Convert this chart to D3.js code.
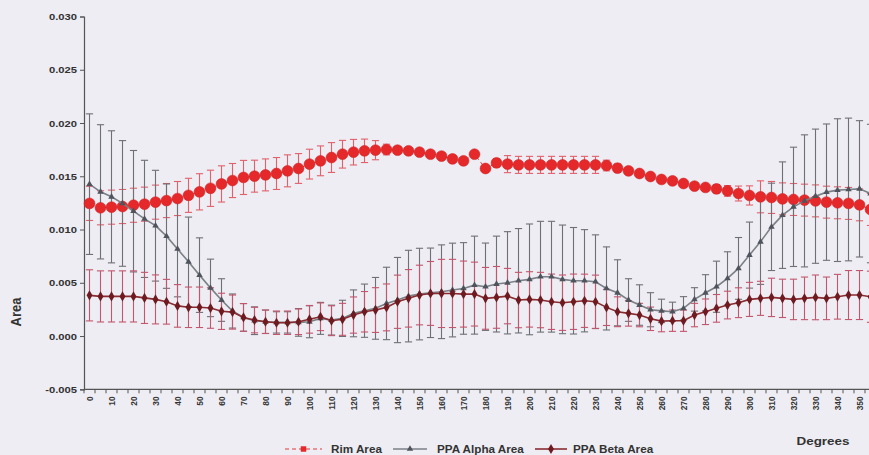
<!DOCTYPE html>
<html>
<head>
<meta charset="utf-8">
<script src="https://cdn.jsdelivr.net/npm/d3@7"></script>
<style>
  html, body { margin: 0; padding: 0; background: #eeedf3; }
  svg { display: block; }
  text { font-family: "Liberation Sans", Arial, sans-serif; font-weight: bold; fill: #333; }
</style>
</head>
<body>
<svg id="chart" width="869" height="455"></svg>
<script>
// Angular position categories (degrees) and the labelled ones
const categories = [0,5,10,15,20,25,30,35,40,45,50,55,60,65,70,75,80,85,90,95,100,105,110,115,120,125,130,135,140,145,150,155,160,165,170,175,180,185,190,195,200,205,210,215,220,225,230,235,240,245,250,255,260,265,270,275,280,285,290,295,300,305,310,315,320,325,330,335,340,345,350,355,360];
const tickLabels = [0,10,20,30,40,50,60,70,80,90,100,110,120,130,140,150,160,170,180,190,200,210,220,230,240,250,260,270,280,290,300,310,320,330,340,350];
const yTicks = [-0.005,0,0.005,0.010,0.015,0.020,0.025,0.030];

// Series means (0..355 deg)
const rimArea = [0.01245,0.01204,0.01210,0.01216,0.01228,0.01238,0.01257,0.01272,0.01291,0.01321,0.01354,0.01387,0.01428,0.01460,0.01489,0.01501,0.01513,0.01526,0.01551,0.01573,0.01614,0.01645,0.01676,0.01707,0.01726,0.01739,0.01745,0.01751,0.01745,0.01739,0.01726,0.01707,0.01689,0.01663,0.01645,0.01707,0.01573,0.01626,0.01614,0.01607,0.01607,0.01607,0.01607,0.01607,0.01607,0.01607,0.01607,0.01601,0.01576,0.01551,0.01526,0.01498,0.01470,0.01457,0.01432,0.01407,0.01395,0.01382,0.01363,0.01338,0.01320,0.01307,0.01301,0.01288,0.01282,0.01276,0.01269,0.01257,0.01251,0.01245,0.01232,0.01188];
const ppaAlpha = [0.01426,0.01354,0.01307,0.01245,0.01172,0.01100,0.01036,0.00938,0.00818,0.00697,0.00572,0.00452,0.00338,0.00235,0.00175,0.00144,0.00134,0.00128,0.00128,0.00128,0.00134,0.00166,0.00150,0.00166,0.00213,0.00238,0.00260,0.00306,0.00338,0.00375,0.00394,0.00406,0.00416,0.00432,0.00447,0.00478,0.00463,0.00488,0.00500,0.00519,0.00532,0.00557,0.00557,0.00532,0.00519,0.00519,0.00510,0.00447,0.00406,0.00338,0.00291,0.00247,0.00236,0.00228,0.00260,0.00344,0.00406,0.00463,0.00541,0.00635,0.00760,0.00885,0.01025,0.01135,0.01213,0.01269,0.01313,0.01351,0.01370,0.01376,0.01382,0.01338];
const ppaBeta = [0.00382,0.00372,0.00372,0.00372,0.00372,0.00358,0.00344,0.00322,0.00283,0.00270,0.00270,0.00263,0.00232,0.00225,0.00175,0.00150,0.00134,0.00125,0.00125,0.00134,0.00157,0.00181,0.00144,0.00157,0.00197,0.00228,0.00244,0.00269,0.00322,0.00354,0.00385,0.00400,0.00400,0.00400,0.00394,0.00394,0.00354,0.00363,0.00375,0.00338,0.00344,0.00338,0.00322,0.00313,0.00322,0.00331,0.00322,0.00269,0.00228,0.00213,0.00197,0.00162,0.00140,0.00144,0.00144,0.00197,0.00228,0.00260,0.00291,0.00313,0.00344,0.00354,0.00363,0.00354,0.00344,0.00354,0.00363,0.00354,0.00369,0.00385,0.00385,0.00369];

// Error bar half-widths
const rimErr = [0.0016,0.0016,0.0016,0.0016,0.0016,0.0016,0.0016,0.0016,0.0016,0.0016,0.0017,0.0017,0.0017,0.0016,0.0016,0.0015,0.0015,0.0015,0.0015,0.0014,0.0014,0.0014,0.0014,0.0013,0.0012,0.0011,0.0009,0.0005,0.0003,0.0003,0.0003,0.0003,0.0003,0.0003,0.0003,0.0002,0.0002,0.0004,0.0008,0.0008,0.0008,0.0008,0.0008,0.0008,0.0008,0.0008,0.0008,0.0005,0.0004,0.0003,0.0003,0.0003,0.0003,0.0003,0.0003,0.0003,0.0003,0.0004,0.0005,0.0007,0.0009,0.0015,0.0015,0.0015,0.0015,0.0015,0.0015,0.0015,0.0015,0.0015,0.0015,0.0015];
const alphaErr = [0.0066,0.0063,0.0062,0.0059,0.0057,0.0055,0.0052,0.0049,0.0045,0.0042,0.0035,0.0027,0.0020,0.0016,0.0013,0.0013,0.0011,0.0010,0.0010,0.0013,0.0015,0.0015,0.0014,0.0017,0.0022,0.0025,0.0029,0.0034,0.0040,0.0043,0.0043,0.0042,0.0044,0.0044,0.0043,0.0046,0.0041,0.0045,0.0048,0.0049,0.0052,0.0052,0.0052,0.0051,0.0050,0.0048,0.0044,0.0039,0.0031,0.0020,0.0019,0.0016,0.0011,0.0009,0.0011,0.0011,0.0017,0.0024,0.0025,0.0029,0.0031,0.0040,0.0041,0.0050,0.0056,0.0062,0.0063,0.0064,0.0067,0.0067,0.0064,0.0065];
const betaErr = [0.0024,0.0024,0.0024,0.0024,0.0024,0.0024,0.0023,0.0021,0.0020,0.0019,0.0019,0.0019,0.0017,0.0016,0.0013,0.0012,0.0011,0.0011,0.0011,0.0012,0.0013,0.0013,0.0014,0.0015,0.0017,0.0019,0.0021,0.0022,0.0025,0.0027,0.0028,0.0030,0.0032,0.0032,0.0031,0.0030,0.0029,0.0029,0.0026,0.0026,0.0026,0.0026,0.0026,0.0026,0.0026,0.0025,0.0025,0.0017,0.0014,0.0012,0.0011,0.0011,0.0010,0.0010,0.0010,0.0011,0.0012,0.0013,0.0013,0.0014,0.0016,0.0016,0.0018,0.0018,0.0019,0.0020,0.0021,0.0020,0.0021,0.0023,0.0023,0.0024];

const series = [
  { name: "Rim Area",       values: rimArea,  err: rimErr,   line: "#e0383a", dash: "4,3", lw: 1,   bar: "#e2606a", marker: "circle" },
  { name: "PPA Alpha Area", values: ppaAlpha, err: alphaErr, line: "#7b7f86", dash: null,  lw: 1.6, bar: "#6e7076", marker: "triangle" },
  { name: "PPA Beta Area",  values: ppaBeta,  err: betaErr,  line: "#8a2b30", dash: null,  lw: 1.6, bar: "#c2566c", marker: "diamond" }
];

const svg = d3.select("#chart");
const W = 869, H = 455;
const stretch = 1.17;   // horizontal text width factor

svg.append("rect").attr("width", W).attr("height", H).attr("fill", "#eeedf3");

const x = d3.scaleBand().domain(categories).range([84, 887]).paddingInner(0).paddingOuter(0);
const cx = d => x(d) + x.bandwidth() / 2;
const y = d3.scaleLinear().domain([-0.005, 0.030]).range([389.3, 16.5]);

// ---- Y axis
const yAxis = svg.append("g").attr("transform", "translate(84,0)")
  .call(d3.axisLeft(y).tickValues(yTicks).tickSize(4).tickPadding(3).tickFormat(d => d.toFixed(3)));
yAxis.select(".domain").attr("stroke", "#555").attr("stroke-width", 1.2);
yAxis.selectAll(".tick line").attr("stroke", "#555");
yAxis.selectAll(".tick text")
  .attr("font-size", 9.6).attr("fill", "#333")
  .each(function() {
    const t = d3.select(this);
    const tx = +t.attr("x");
    t.attr("x", null).attr("dy", "0.33em")
     .attr("transform", `translate(${tx},0) scale(${stretch},1)`);
  });

// ---- X axis
const xAxisY = y(-0.005);
const xAxis = svg.append("g").attr("transform", `translate(0,${xAxisY})`)
  .call(d3.axisBottom(x).tickValues(tickLabels).tickSize(0).tickPadding(0).tickSizeOuter(0));
xAxis.select(".domain").remove();
xAxis.selectAll(".tick text")
  .attr("font-size", 8.4).attr("fill", "#333")
  .attr("y", null).attr("dy", "0.35em")
  .attr("text-anchor", "end")
  .attr("transform", `translate(0,7) scale(${stretch},1) rotate(-90)`);

svg.append("line")
  .attr("x1", x(categories[0])).attr("x2", W + 20)
  .attr("y1", xAxisY).attr("y2", xAxisY)
  .attr("stroke", "#555").attr("stroke-width", 1.2);
// tick marks between categories
svg.append("g").selectAll("line").data(categories).join("line")
  .attr("x1", d => x(d)).attr("x2", d => x(d))
  .attr("y1", xAxisY).attr("y2", xAxisY + 4)
  .attr("stroke", "#555").attr("stroke-width", 1);

// ---- Error bars
const pts = s => s.values.map((v, i) => ({ c: categories[i], v, e: s.err[i] }));
const cap = 3.6;
series.forEach(s => {
  const g = svg.append("g").attr("stroke", s.bar).attr("stroke-width", 1.1).attr("fill", "none");
  const data = pts(s);
  g.selectAll("line.stem").data(data).join("line").attr("class", "stem")
    .attr("x1", d => cx(d.c)).attr("x2", d => cx(d.c))
    .attr("y1", d => y(d.v + d.e)).attr("y2", d => y(d.v - d.e));
  g.selectAll("line.top").data(data).join("line").attr("class", "top")
    .attr("x1", d => cx(d.c) - cap).attr("x2", d => cx(d.c) + cap)
    .attr("y1", d => y(d.v + d.e)).attr("y2", d => y(d.v + d.e));
  g.selectAll("line.bot").data(data).join("line").attr("class", "bot")
    .attr("x1", d => cx(d.c) - cap).attr("x2", d => cx(d.c) + cap)
    .attr("y1", d => y(d.v - d.e)).attr("y2", d => y(d.v - d.e));
});

// ---- Lines and markers
const lineGen = d3.line().x(d => cx(d.c)).y(d => y(d.v));
const symTri = d3.symbol().type(d3.symbolTriangle).size(18);
const symDia = d3.symbol().type(d3.symbolDiamond).size(30);
const symSq = d3.symbol().type(d3.symbolSquare).size(30);

series.forEach(s => {
  const data = pts(s);
  svg.append("path").datum(data)
    .attr("d", lineGen).attr("fill", "none")
    .attr("stroke", s.line).attr("stroke-width", s.lw)
    .attr("stroke-dasharray", s.dash);
  const g = svg.append("g");
  if (s.marker === "circle") {
    g.selectAll("circle").data(data).join("circle")
      .attr("cx", d => cx(d.c)).attr("cy", d => y(d.v)).attr("r", 5.4)
      .attr("fill", "#e5292b").attr("stroke", "#d42024").attr("stroke-width", 0.6);
  } else if (s.marker === "triangle") {
    g.selectAll("path").data(data).join("path")
      .attr("d", symTri).attr("transform", d => `translate(${cx(d.c)},${y(d.v)})`)
      .attr("fill", "#4e535c");
  } else {
    g.selectAll("path").data(data).join("path")
      .attr("d", symDia).attr("transform", d => `translate(${cx(d.c)},${y(d.v)})`)
      .attr("fill", "#6e1a20");
  }
});

// ---- Axis titles
svg.append("text").text("Area")
  .attr("font-size", 13).attr("text-anchor", "middle")
  .attr("transform", `translate(21,312) scale(${stretch},1) rotate(-90)`);
svg.append("text").text("Degrees")
  .attr("font-size", 11.5).attr("text-anchor", "middle")
  .attr("transform", `translate(823,444.5) scale(${stretch},1)`);

// ---- Legend
const legY = 449;
const legend = [
  { s: series[0], x0: 285, x1: 322, text: 331 },
  { s: series[1], x0: 393, x1: 427, text: 437 },
  { s: series[2], x0: 535, x1: 567, text: 573 }
];
legend.forEach(l => {
  const g = svg.append("g");
  g.append("line").attr("x1", l.x0).attr("x2", l.x1).attr("y1", legY).attr("y2", legY)
    .attr("stroke", l.s.line).attr("stroke-width", l.s.lw)
    .attr("stroke-dasharray", l.s.dash);
  const mx = (l.x0 + l.x1) / 2;
  const sym = l.s.marker === "circle" ? symSq : (l.s.marker === "triangle" ? symTri : symDia);
  const fill = l.s.marker === "circle" ? "#e5292b" : (l.s.marker === "triangle" ? "#4e535c" : "#6e1a20");
  g.append("path").attr("d", sym).attr("transform", `translate(${mx},${legY})`).attr("fill", fill);
  g.append("text").text(l.s.name)
    .attr("font-size", 10).attr("dy", "0.35em")
    .attr("transform", `translate(${l.text},${legY}) scale(${stretch},1)`);
});
</script>
</body>
</html>
